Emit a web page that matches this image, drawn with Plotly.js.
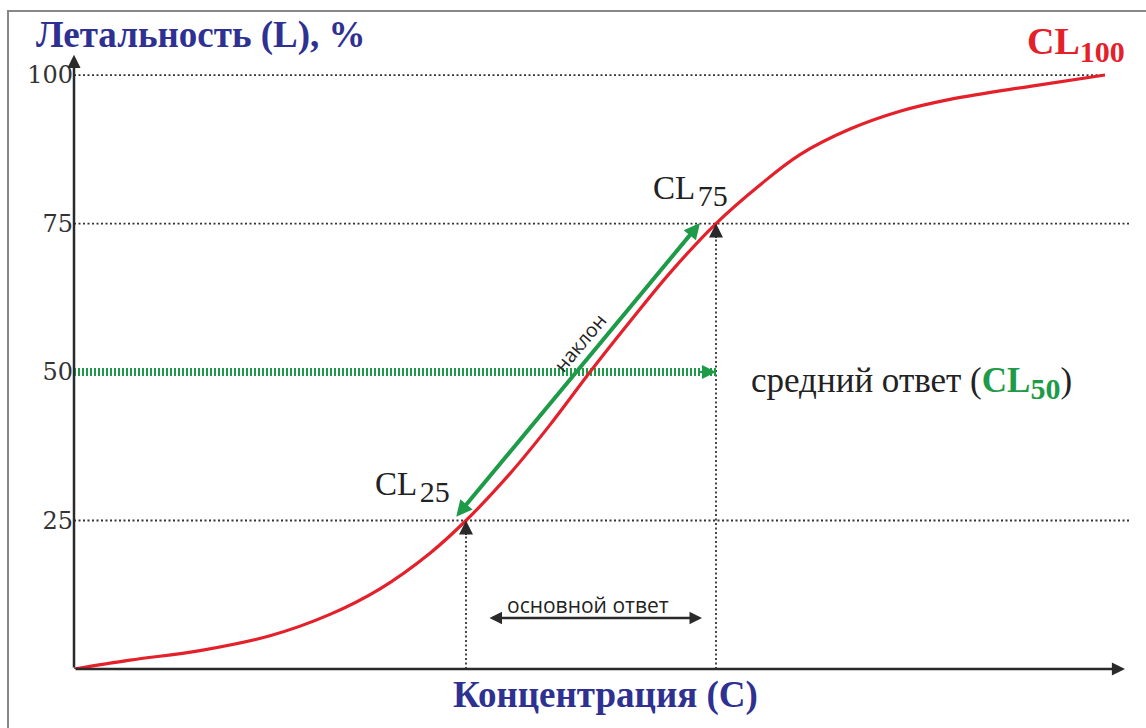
<!DOCTYPE html>
<html><head><meta charset="utf-8">
<script src="https://cdn.plot.ly/plotly-3.0.1.min.js"></script>
<style>html,body{margin:0;padding:0;background:#fff}#chart{width:1146px;height:728px}</style>
</head><body><div id="chart"></div>
<script>
// ---- data ----
const concentration = [0, 5.6, 12.6, 19.6, 25.6, 30.6, 35.6, 39.2, 43.6, 47.6, 51.6, 55.6, 59.6, 64.2, 68.6, 72.6, 77.6, 82.6, 87.6, 95.6, 103.1];
const lethality     = [0, 1.5, 3.1, 5.6, 9.2, 13.5, 19.5, 25, 32.9, 41.1, 50, 58.5, 66.7, 75, 81.5, 86.6, 90.9, 93.9, 95.9, 98.1, 100];
const tickValues = [25, 50, 75, 100];
const tickLabels = ['25', '50', '75', '100'];
const cl25 = 39.2, cl75 = 64.2, cl100 = 103.1;
const guideEnd = 105.6;
const axisEndX = 105.1, axisEndY = 103.4;
const slopeStart = [38.1, 25.4], slopeEnd = [62.6, 75.1];
const mainResponseX = [41.4, 62.8], mainResponseY = 8.6;

const GREEN = '#1E9B48', RED = '#E4202A', DARK = '#2a2a2a', NAVY = '#2E3192';

const traces = [
  { // dotted guide lines
    x: [0, cl100, null, 0, guideEnd, null, 0, guideEnd, null, cl25, cl25, null, cl75, cl75],
    y: [100, 100, null, 75, 75, null, 25, 25, null, 0, 25, null, 0, 75],
    mode: 'lines', line: {color: '#333', width: 1.8, dash: '2px,2.5px'}, hoverinfo: 'skip'
  },
  { // mean response
    x: [0, cl75], y: [50, 50],
    mode: 'lines', line: {color: GREEN, width: 8, dash: '2px,2px'}, hoverinfo: 'skip'
  },
  { // dose-response curve
    x: concentration, y: lethality,
    mode: 'lines', line: {color: RED, width: 3.2, shape: 'spline', smoothing: 1}, hoverinfo: 'skip'
  }
];

function arrow(x, y, ax, ay, color, w, size, side, ref) {
  return {x, y, ax, ay, xref: 'x', yref: 'y', axref: ref ? 'x' : 'pixel', ayref: ref ? 'y' : 'pixel',
    text: '', showarrow: true, arrowhead: 2, startarrowhead: 2, arrowside: side || 'end',
    arrowcolor: color, arrowwidth: w, arrowsize: size, startarrowsize: size};
}
function label(x, y, text, font, xanchor, extra) {
  return Object.assign({x, y, xref: 'x', yref: 'y', text, showarrow: false, font,
    xanchor: xanchor || 'center', yanchor: 'middle'}, extra || {});
}
const serif = (s, c) => ({family: 'Liberation Serif, serif', size: s, color: c});
const sans = (s) => ({family: 'Open Sans, sans-serif', size: s, color: '#222'});
const sub = (t, s) => '<sub><span style="font-size:' + s + 'px">' + t + '</span></sub>';

const annotations = [
  arrow(axisEndX, 0, 0, 0, DARK, 2.5, 1.05, 'end', true),
  arrow(0, axisEndY, 0, 0, DARK, 2.5, 1.05, 'end', true),
  arrow(slopeEnd[0], slopeEnd[1], slopeStart[0], slopeStart[1], GREEN, 4, 0.8, 'end+start', true),
  arrow(cl75, 50, -18, 0, GREEN, 2, 1.4),
  arrow(cl25, 25, 0, 16, DARK, 2, 1.4),
  arrow(cl75, 75, 0, 16, DARK, 2, 1.4),
  arrow(mainResponseX[1], mainResponseY, mainResponseX[0], mainResponseY, DARK, 2.5, 1.0, 'end+start', true),
  {xref: 'paper', yref: 'paper', x: -0.0375, y: 1.008, xanchor: 'left', yanchor: 'middle', showarrow: false,
   text: '<b>Летальность (L), %</b>', font: serif(37, NAVY)},
  {xref: 'paper', yref: 'paper', x: 0.499, y: -0.0413, xanchor: 'center', yanchor: 'middle', showarrow: false,
   text: '<b>Концентрация (С)</b>', font: serif(37, NAVY)},
  label(105.3, 105.2, '<b>CL' + sub('100', 30) + '</b>', serif(38, RED), 'right'),
  label(57.7, 80.5, 'CL' + sub('&#8202;75', 30), serif(33, '#222'), 'left'),
  label(29.9, 30.6, 'CL' + sub('&#8202;25', 30), serif(33, '#222'), 'left'),
  label(67.5, 48.2, 'средний ответ (<b><span style="color:' + GREEN + '">CL' + sub('50', 30) + '</span></b>)', serif(35, '#222'), 'left'),
  label(50.6, 54.9, 'наклон', sans(19.5), 'center', {textangle: -50}),
  label(51.4, 10.8, 'основной ответ', sans(21))
];

const layout = {
  width: 1146, height: 728,
  margin: {l: 74, r: 6, t: 40, b: 59},
  paper_bgcolor: '#fff', plot_bgcolor: '#fff',
  showlegend: false,
  xaxis: {range: [0, 106.6], showgrid: false, zeroline: false, showline: false, showticklabels: false, ticks: '', fixedrange: true},
  yaxis: {range: [0, 105.9], tickvals: tickValues, ticktext: tickLabels, showgrid: false, zeroline: false, showline: false, ticks: '',
    tickfont: {family: 'DejaVu Serif', size: 24, color: '#333'}, fixedrange: true},
  shapes: [{type: 'rect', xref: 'paper', yref: 'paper', x0: -0.0619, x1: 1.02, y0: -0.12, y1: 1.046,
    line: {color: '#888', width: 2}, fillcolor: 'rgba(0,0,0,0)', layer: 'below'}],
  annotations
};
Plotly.newPlot('chart', traces, layout, {displayModeBar: false, staticPlot: true});
</script></body></html>
